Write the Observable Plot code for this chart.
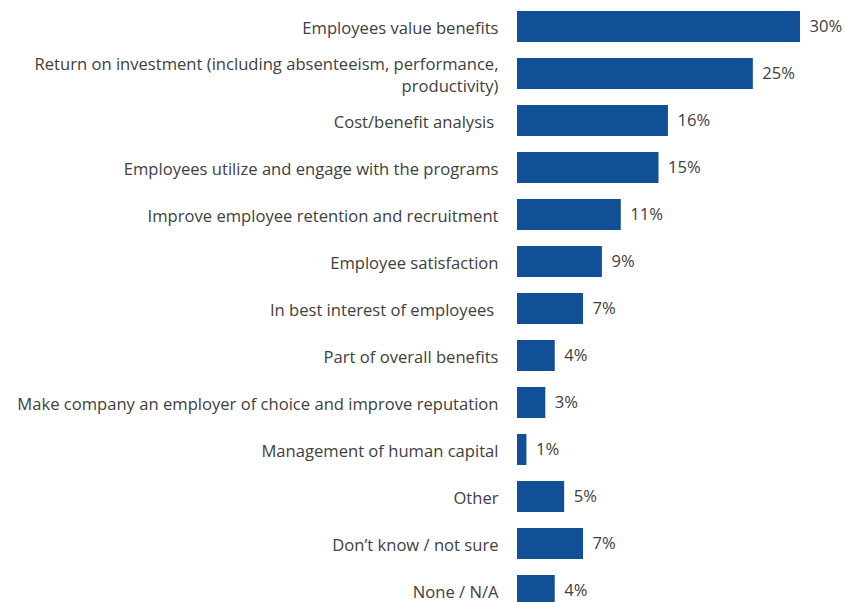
<!DOCTYPE html>
<html>
<head>
<meta charset="utf-8">
<script src="https://cdn.jsdelivr.net/npm/d3@7"></script>
<script src="https://cdn.jsdelivr.net/npm/@observablehq/plot@0.6"></script>
<style>
  html, body { margin: 0; padding: 0; background: #fff; overflow: hidden; }
</style>
</head>
<body>
<div id="chart"></div>
<script>
const categories = [
  "Employees value benefits",
  "Return on investment (including absenteeism, performance,\nproductivity)",
  "Cost/benefit analysis ",
  "Employees utilize and engage with the programs",
  "Improve employee retention and recruitment",
  "Employee satisfaction",
  "In best interest of employees ",
  "Part of overall benefits",
  "Make company an employer of choice and improve reputation",
  "Management of human capital",
  "Other",
  "Don\u2019t know / not sure",
  "None / N/A"
];
const values = [30, 25, 16, 15, 11, 9, 7, 4, 3, 1, 5, 7, 4];

const data = categories.map((c, i) => ({category: c, value: values[i]}));

const chart = Plot.plot({
  width: 846,
  height: 602,
  marginLeft: 517,
  marginRight: 46,
  marginTop: 1.9,
  marginBottom: -13.1,
  style: {fontFamily: "'Open Sans', sans-serif", fontSize: "16.6px", color: "#404040", background: "#fff", overflow: "hidden"},
  x: {domain: [0, 30], axis: null},
  y: {domain: categories, paddingInner: 0.34, paddingOuter: 0.17, label: null},
  marks: [
    Plot.barX(data, {y: "category", x: "value", fill: "#114F96"}),
    Plot.text(data, {y: "category", x: "value", text: d => d.value + "%", textAnchor: "start", dx: 9, fill: "#404040", fontSize: 16.6}),
    Plot.axisY({tickSize: 0, tickPadding: 19, fontSize: 16.6, lineHeight: 1.33, fill: "#404040", label: null})
  ]
});
document.getElementById("chart").appendChild(chart);
</script>
</body>
</html>
